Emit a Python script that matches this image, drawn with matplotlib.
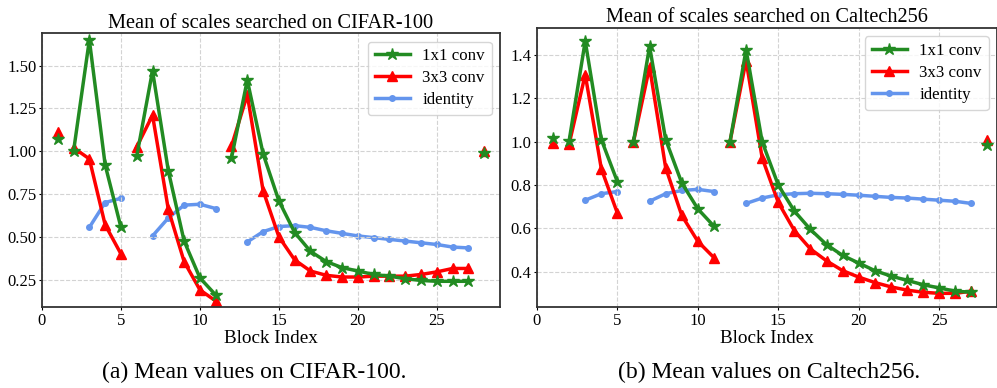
import numpy as np
import matplotlib
matplotlib.use("Agg")
import matplotlib.pyplot as plt

plt.rcParams["font.family"] = ["Liberation Serif", "DejaVu Serif"]

blocks = np.arange(1, 29)
# segments of block indices that are joined by a line
conv_segments = [(1, 1), (2, 5), (6, 11), (12, 27), (28, 28)]
id_segments = [(3, 5), (7, 11), (13, 27)]

# CIFAR-100
cifar_1x1 = [1.07, 1.00, 1.65, 0.92, 0.555, 0.97, 1.47, 0.885, 0.475, 0.26, 0.16,
             0.96, 1.415, 0.985, 0.71, 0.525, 0.415, 0.355, 0.32, 0.30, 0.28, 0.27,
             0.255, 0.245, 0.24, 0.24, 0.24, 0.99]
cifar_3x3 = [1.115, 1.02, 0.955, 0.57, 0.40, 1.025, 1.21, 0.66, 0.355, 0.19, 0.125,
             1.03, 1.33, 0.77, 0.50, 0.365, 0.30, 0.275, 0.265, 0.265, 0.27, 0.27,
             0.27, 0.28, 0.295, 0.315, 0.315, 1.00]
cifar_id = [np.nan, np.nan, 0.555, 0.70, 0.725, np.nan, 0.505, 0.61, 0.685, 0.69, 0.665,
            np.nan, 0.47, 0.53, 0.56, 0.565, 0.555, 0.535, 0.52, 0.505, 0.495, 0.485,
            0.475, 0.465, 0.455, 0.44, 0.435, np.nan]

# Caltech256
cal_1x1 = [1.015, 1.005, 1.465, 1.01, 0.815, 1.00, 1.44, 1.01, 0.81, 0.69, 0.61,
           1.00, 1.425, 1.00, 0.80, 0.68, 0.595, 0.525, 0.475, 0.44, 0.405, 0.38,
           0.36, 0.34, 0.325, 0.31, 0.305, 0.985]
cal_3x3 = [0.995, 0.99, 1.31, 0.875, 0.67, 1.00, 1.345, 0.88, 0.66, 0.54, 0.465,
           1.00, 1.375, 0.925, 0.72, 0.59, 0.505, 0.45, 0.405, 0.375, 0.35, 0.33,
           0.315, 0.305, 0.30, 0.30, 0.31, 1.01]
cal_id = [np.nan, np.nan, 0.73, 0.76, 0.77, np.nan, 0.725, 0.76, 0.775, 0.78, 0.77,
          np.nan, 0.715, 0.74, 0.755, 0.76, 0.762, 0.76, 0.757, 0.753, 0.748, 0.743,
          0.74, 0.735, 0.73, 0.725, 0.715, np.nan]


def draw(ax, v1, v3, vid, title):
    v1, v3, vid = np.array(v1), np.array(v3), np.array(vid)
    for k, (a, b) in enumerate(conv_segments):
        idx = (blocks >= a) & (blocks <= b)
        ax.plot(blocks[idx], v1[idx], color="forestgreen", marker="*", ms=9, lw=2.5,
                label="1x1 conv" if k == 0 else None, zorder=3)
        ax.plot(blocks[idx], v3[idx], color="red", marker="^", ms=7, lw=2.5,
                label="3x3 conv" if k == 0 else None, zorder=2)
    for k, (a, b) in enumerate(id_segments):
        idx = (blocks >= a) & (blocks <= b)
        ax.plot(blocks[idx], vid[idx], color="cornflowerblue", marker="o", ms=4, lw=2.5,
                label="identity" if k == 0 else None, zorder=1)
    ax.set_title(title, fontsize=14.7, pad=4)
    ax.set_xlabel("Block Index", fontsize=13.8, labelpad=1)
    ax.grid(True, ls="--", color="lightgray", lw=0.8)
    ax.tick_params(labelsize=12, length=2, pad=2)
    for s in ax.spines.values():
        s.set_linewidth(1.3)
        s.set_color("#333333")
    ax.legend(loc="upper right", fontsize=12.2, handlelength=2.1, labelspacing=0.35,
              handletextpad=0.7, borderaxespad=0.5)


fig = plt.figure(figsize=(9.97, 3.88), dpi=100)
ax1 = fig.add_axes([0.0421, 0.2088, 0.4594, 0.706])
ax2 = fig.add_axes([0.5386, 0.2088, 0.4614, 0.719])

draw(ax1, cifar_1x1, cifar_3x3, cifar_id, "Mean of scales searched on CIFAR-100")
ax1.set_xlim(0, 29)
ax1.set_ylim(0.09, 1.69)
ax1.set_yticks([0.25, 0.5, 0.75, 1.0, 1.25, 1.5])
ax1.set_yticklabels(["0.25", "0.50", "0.75", "1.00", "1.25", "1.50"])

draw(ax2, cal_1x1, cal_3x3, cal_id, "Mean of scales searched on Caltech256")
ax2.set_xlim(0, 28.6)
ax2.set_ylim(0.237, 1.525)
ax2.set_yticks([0.4, 0.6, 0.8, 1.0, 1.2, 1.4])

fig.text(0.255, 0.026, "(a) Mean values on CIFAR-100.", ha="center", va="baseline", fontsize=17)
fig.text(0.771, 0.026, "(b) Mean values on Caltech256.", ha="center", va="baseline", fontsize=17)

fig.savefig("out.png", dpi=100)
